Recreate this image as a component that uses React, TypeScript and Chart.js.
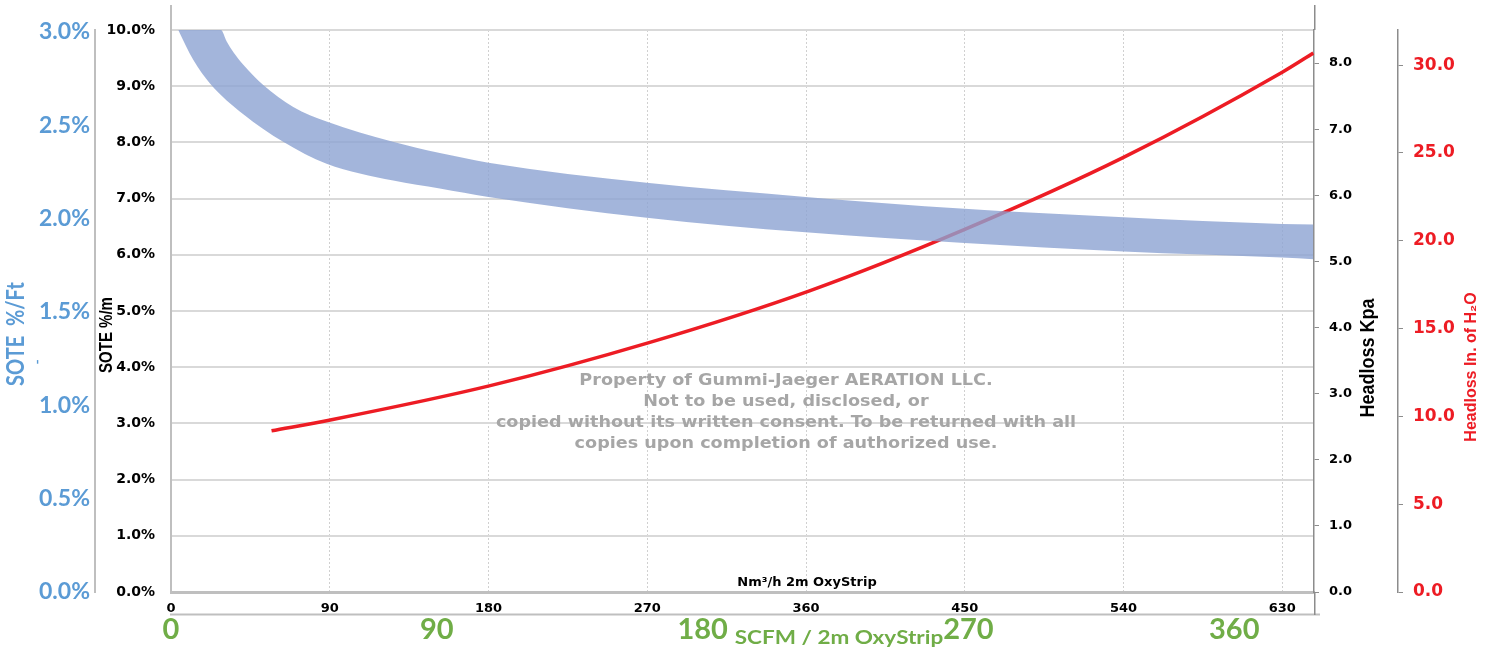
import React, { useEffect, useRef } from 'react';
import { Chart, registerables } from 'chart.js';

Chart.register(...registerables);

// ---- tick values ----
const NM3H_TICKS = [0, 90, 180, 270, 360, 450, 540, 630];
const SCFM_TICKS = [0, 90, 180, 270, 360];
const SOTE_M_TICKS = [0, 1, 2, 3, 4, 5, 6, 7, 8, 9, 10];
const SOTE_FT_TICKS = [0, 0.5, 1, 1.5, 2, 2.5, 3];
const KPA_TICKS = [0, 1, 2, 3, 4, 5, 6, 7, 8];
const INH2O_TICKS = [0, 5, 10, 15, 20, 25, 30];

// ---- axis ranges ----
const NM3H_MAX = 648;
const SCFM_MAX = 387;
const SOTE_M_MAX = 10;
const SOTE_FT_MAX = 3.01;
const KPA_MAX = 8.5;
const INH2O_MAX = 32;

// ---- SOTE band (%/m vs Nm3/h) ----
const BAND_UPPER_X = [4.1, 28.3, 31.5, 35.5, 41.0, 52.3, 69.3, 88.2, 125.8, 152.4, 180, 269.7, 359.8, 449.9, 540, 630, 647.6];
const BAND_UPPER_Y = [10.0, 10.0, 9.80, 9.60, 9.38, 9.02, 8.63, 8.37, 8.01, 7.81, 7.64, 7.28, 7.03, 6.82, 6.67, 6.55, 6.54];
const BAND_LOWER_X = [4.1, 12.6, 22.1, 41.0, 63.6, 88.2, 126.0, 152.4, 180, 269.7, 359.8, 449.9, 540, 630, 647.6];
const BAND_LOWER_Y = [10.0, 9.47, 9.05, 8.50, 8.01, 7.62, 7.32, 7.18, 7.03, 6.66, 6.40, 6.21, 6.06, 5.95, 5.92];

// ---- Headloss (in. H2O vs Nm3/h) ----
const HEADLOSS_X = [57, 91, 181, 271, 362, 450, 540, 630, 647.6];
const HEADLOSS_Y = [9.18, 9.81, 11.75, 14.2, 17.15, 20.65, 24.75, 29.6, 30.69];

const WATERMARK_LINES = [
  'Property of Gummi-Jaeger AERATION LLC.',
  'Not to be used, disclosed, or',
  'copied without its written consent. To be returned with all',
  'copies upon completion of authorized use.',
];

const BLUE = '#5B9BD5';
const GREEN = '#70AD47';
const RED = '#ED1C24';
const BAND = 'rgba(140,163,210,0.8)';
const GRID = '#D9D9D9';
const AXIS_GRAY = '#BFBFBF';
const DARK_GRAY = '#8C8C8C';

const zip = (xs: number[], ys: number[]) => xs.map((x, i) => ({ x, y: ys[i] }));
const setTicks = (arr: number[]) => (s: any) => {
  s.ticks = arr.map((v) => ({ value: v }));
};

function drawText(ctx: CanvasRenderingContext2D, text: string, x: number, y: number, o: any) {
  ctx.save();
  ctx.translate(x, y);
  if (o.sx) ctx.scale(o.sx, 1);
  if (o.rotate) ctx.rotate(o.rotate);
  ctx.font = o.font;
  ctx.fillStyle = o.color || '#000';
  ctx.textAlign = o.align || 'center';
  ctx.textBaseline = o.baseline || 'middle';
  ctx.fillText(text, 0, 0);
  ctx.restore();
}

const overlay = {
  id: 'overlay',
  beforeDatasetsDraw(chart: any) {
    const ctx = chart.ctx as CanvasRenderingContext2D;
    const ys = [381, 402, 423, 444];
    WATERMARK_LINES.forEach((t, i) =>
      drawText(ctx, t, 786, ys[i], { font: 'bold 16px "DejaVu Sans"', color: '#A6A6A6', sx: 1.1 })
    );
  },
  afterDraw(chart: any) {
    const ctx = chart.ctx as CanvasRenderingContext2D;
    const { left, right, top, bottom } = chart.chartArea;
    ctx.save();
    ctx.strokeStyle = AXIS_GRAY;
    ctx.lineWidth = 2;
    ctx.beginPath();
    ctx.moveTo(left, 5);
    ctx.lineTo(left, top);
    ctx.moveTo(left - 1, 614.5);
    ctx.lineTo(right + 6, 614.5);
    ctx.stroke();
    ctx.strokeStyle = DARK_GRAY;
    ctx.lineWidth = 1.5;
    ctx.beginPath();
    ctx.moveTo(right + 0.75, 5);
    ctx.lineTo(right + 0.75, top);
    ctx.moveTo(right + 0.75, bottom);
    ctx.lineTo(right + 0.75, 615);
    ctx.stroke();
    ctx.restore();

    const R = -Math.PI / 2;
    drawText(ctx, 'SOTE  %/Ft', 16, 334, { font: 'bold 20px Lato', color: BLUE, rotate: R, sx: 1.25 });
    drawText(ctx, '-', 37, 362, { font: 'bold 14px Lato', color: BLUE, rotate: R });
    drawText(ctx, 'SOTE %/m', 107, 335, { font: 'bold 15px "Liberation Sans"', color: '#000', rotate: R, sx: 1.2 });
    drawText(ctx, 'Headloss Kpa', 1369, 358, { font: 'bold 18px "Liberation Sans"', color: '#000', rotate: R, sx: 1.1 });
    drawText(ctx, 'Headloss In. of H\u2082O', 1472, 367, { font: 'bold 16px "Liberation Sans", "DejaVu Sans"', color: RED, rotate: R });
    drawText(ctx, 'Nm\u00B3/h 2m OxyStrip', 807, 583, { font: 'bold 13px "DejaVu Sans"', color: '#000' });
    drawText(ctx, 'SCFM / 2m OxyStrip', 839, 638, { font: 'bold 18px Lato', color: GREEN, sx: 1.25 });
  },
};

export default function App() {
  const ref = useRef<HTMLCanvasElement>(null);
  useEffect(() => {
    const dejavu = (size: number) => ({ family: '"DejaVu Sans"', size, weight: 'bold' as const });
    const chart = new Chart(ref.current as HTMLCanvasElement, {
      type: 'line',
      data: {
        datasets: [
          {
            label: 'SOTE upper',
            data: zip(BAND_UPPER_X, BAND_UPPER_Y),
            xAxisID: 'x',
            yAxisID: 'y',
            borderWidth: 0,
            borderColor: 'rgba(0,0,0,0)',
            pointRadius: 0,
            cubicInterpolationMode: 'monotone',
            fill: false,
          },
          {
            label: 'SOTE lower',
            data: zip(BAND_LOWER_X, BAND_LOWER_Y),
            xAxisID: 'x',
            yAxisID: 'y',
            borderWidth: 0,
            borderColor: 'rgba(0,0,0,0)',
            backgroundColor: BAND,
            pointRadius: 0,
            cubicInterpolationMode: 'monotone',
            fill: '-1',
          },
          {
            label: 'Headloss',
            data: zip(HEADLOSS_X, HEADLOSS_Y),
            xAxisID: 'x',
            yAxisID: 'yIn',
            borderColor: RED,
            borderWidth: 3.5,
            pointRadius: 0,
            cubicInterpolationMode: 'monotone',
            fill: false,
          },
        ] as any,
      },
      options: {
        animation: false,
        responsive: false,
        events: [],
        layout: { padding: { top: 30, left: 0, right: 0, bottom: 0 } },
        plugins: { legend: { display: false }, tooltip: { enabled: false } },
        scales: {
          x: {
            type: 'linear',
            position: 'bottom',
            weight: 0,
            min: 0,
            max: NM3H_MAX,
            bounds: 'data',
            afterBuildTicks: setTicks(NM3H_TICKS),
            afterFit: (s: any) => { s.height = 23; },
            grid: { color: '#D0D0D0', lineWidth: 1, drawTicks: false },
            border: { color: AXIS_GRAY, width: 3, dash: [2, 2] },
            ticks: { autoSkip: false, maxRotation: 0, padding: 9, color: '#000', font: dejavu(13), callback: (v: any) => String(v) },
          },
          xScfm: {
            type: 'linear',
            position: 'bottom',
            weight: 1,
            min: 0,
            max: SCFM_MAX,
            bounds: 'data',
            afterBuildTicks: setTicks(SCFM_TICKS),
            afterFit: (s: any) => { s.height = 32; },
            grid: { display: false, drawTicks: false },
            border: { display: false },
            ticks: { autoSkip: false, maxRotation: 0, padding: 0, color: GREEN, font: { family: 'Lato', size: 29, weight: 'bold', lineHeight: 1 }, callback: (v: any) => String(v) },
          },
          y: {
            type: 'linear',
            position: 'left',
            weight: 0,
            min: 0,
            max: SOTE_M_MAX,
            bounds: 'data',
            afterBuildTicks: setTicks(SOTE_M_TICKS),
            afterFit: (s: any) => { s.width = 76; },
            grid: { color: GRID, lineWidth: 2, drawTicks: false },
            border: { color: AXIS_GRAY, width: 2 },
            ticks: { autoSkip: false, padding: 16, color: '#000', font: dejavu(14), callback: (v: any) => Number(v).toFixed(1) + '%' },
          },
          ySoteFt: {
            type: 'linear',
            position: 'left',
            weight: 1,
            min: 0,
            max: SOTE_FT_MAX,
            bounds: 'data',
            afterBuildTicks: setTicks(SOTE_FT_TICKS),
            afterFit: (s: any) => { s.width = 95; },
            grid: { display: false, drawTicks: false, drawOnChartArea: false },
            border: { color: AXIS_GRAY, width: 2 },
            ticks: { autoSkip: false, padding: 5, color: BLUE, font: { family: 'Lato', size: 23, weight: 'bold' }, callback: (v: any) => Number(v).toFixed(1) + '%' },
          },
          yKpa: {
            type: 'linear',
            position: 'right',
            weight: 0,
            min: 0,
            max: KPA_MAX,
            bounds: 'data',
            afterBuildTicks: setTicks(KPA_TICKS),
            afterFit: (s: any) => { s.width = 84; },
            grid: { drawOnChartArea: false, drawTicks: true, tickLength: 5, color: DARK_GRAY, lineWidth: 1 },
            border: { color: DARK_GRAY, width: 1.5 },
            ticks: { autoSkip: false, padding: 10, color: '#000', font: dejavu(13), callback: (v: any) => Number(v).toFixed(1) },
          },
          yIn: {
            type: 'linear',
            position: 'right',
            weight: 1,
            min: 0,
            max: INH2O_MAX,
            bounds: 'data',
            afterBuildTicks: setTicks(INH2O_TICKS),
            afterFit: (s: any) => { s.width = 99; },
            grid: { drawOnChartArea: false, drawTicks: true, tickLength: 5, color: DARK_GRAY, lineWidth: 1 },
            border: { color: DARK_GRAY, width: 1.5 },
            ticks: { autoSkip: false, padding: 10, color: RED, font: dejavu(17), callback: (v: any) => Number(v).toFixed(1) },
          },
        } as any,
      },
      plugins: [overlay as any],
    });
    return () => chart.destroy();
  }, []);

  return (
    <div style={{ position: 'fixed', left: 0, top: 0, width: 1497, height: 647, background: '#fff' }}>
      <canvas ref={ref} width={1497} height={647} style={{ display: 'block', width: 1497, height: 647 }} />
    </div>
  );
}
